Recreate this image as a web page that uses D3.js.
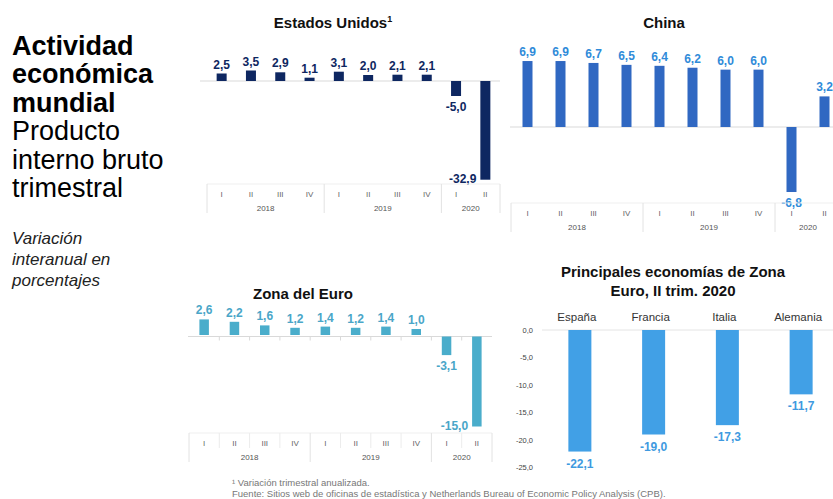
<!DOCTYPE html>
<html>
<head>
<meta charset="utf-8">
<script src="https://cdn.jsdelivr.net/npm/d3@7"></script>
<style>
  body { margin: 0; background: #fff; }
  text { font-family: "Liberation Sans", Arial, sans-serif; }
</style>
</head>
<body>
<div class="canvas"></div>
<script>
// data
const quarters = ["I", "II", "III", "IV", "I", "II", "III", "IV", "I", "II"];
const years = ["2018", "2019", "2020"];
const yearStarts = [0, 4, 8];
const usValues = [2.5, 3.5, 2.9, 1.1, 3.1, 2.0, 2.1, 2.1, -5.0, -32.9];
const chinaValues = [6.9, 6.9, 6.7, 6.5, 6.4, 6.2, 6.0, 6.0, -6.8, 3.2];
const euroValues = [2.6, 2.2, 1.6, 1.2, 1.4, 1.2, 1.4, 1.0, -3.1, -15.0];
const countries = ["España", "Francia", "Italia", "Alemania"];
const countryValues = [-22.1, -19.0, -17.3, -11.7];
const countryTicks = [0, -5, -10, -15, -20, -25];

// spanish decimal comma, plain hyphen minus
const fmt = v => d3.format(".1f")(v).replace("−", "-").replace(".", ",");

const svg = d3.select('.canvas')
  .append('svg')
  .attr('width', 833)
  .attr('height', 499);

// left heading
const head = svg.append('g');
const bigLines = [
  {t: "Actividad", b: true}, {t: "económica", b: true}, {t: "mundial", b: true},
  {t: "Producto", b: false}, {t: "interno bruto", b: false}, {t: "trimestral", b: false}
];
bigLines.forEach((l, i) => {
  head.append('text')
    .attr('x', 12).attr('y', 55 + i * 28.4)
    .attr('font-size', 27)
    .attr('font-weight', l.b ? 'bold' : 'normal')
    .attr('fill', '#000')
    .text(l.t);
});
["Variación", "interanual en", "porcentajes"].forEach((t, i) => {
  head.append('text')
    .attr('x', 12).attr('y', 244 + i * 21.2)
    .attr('font-size', 17)
    .attr('font-style', 'italic')
    .attr('fill', '#222')
    .text(t);
});

// quarterly bar chart
function quarterChart(opt) {
  const g = svg.append('g');
  const x = d3.scaleBand()
    .domain(d3.range(opt.values.length))
    .range(opt.xRange);
  const y = d3.scaleLinear()
    .domain([0, opt.unitVal])
    .range([opt.zeroY, opt.zeroY - opt.unitPx * opt.unitVal]);
  const bw = opt.barW;
  const cx = i => x(i) + x.bandwidth() / 2;

  g.append('text')
    .attr('x', opt.titleX).attr('y', opt.titleY)
    .attr('text-anchor', 'middle')
    .attr('font-size', 15).attr('font-weight', 'bold')
    .attr('fill', '#111')
    .text(opt.title)
    .call(t => { if (opt.sup) t.append('tspan').attr('font-size', 9).attr('dy', -6).text(opt.sup); });

  // zero line
  g.append('line')
    .attr('x1', opt.lineX[0]).attr('x2', opt.lineX[1])
    .attr('y1', y(0)).attr('y2', y(0))
    .attr('stroke', '#d9d9d9');

  if (opt.zeroTicks) {
    d3.range(1, opt.values.length).forEach(i => {
      g.append('line')
        .attr('x1', x(i)).attr('x2', x(i))
        .attr('y1', y(0)).attr('y2', y(0) + 4)
        .attr('stroke', '#d9d9d9');
    });
  }

  g.selectAll('rect.bar')
    .data(opt.values)
    .enter().append('rect')
    .attr('class', 'bar')
    .attr('x', (d, i) => cx(i) - bw / 2)
    .attr('y', d => d >= 0 ? y(d) - opt.posGap : y(0))
    .attr('width', bw)
    .attr('height', d => Math.abs(y(d) - y(0)))
    .attr('fill', opt.color);

  g.selectAll('text.val')
    .data(opt.values)
    .enter().append('text')
    .attr('class', 'val')
    .attr('x', (d, i) => opt.sideLabel.includes(i) ? cx(i) - bw / 2 - 4 : cx(i))
    .attr('y', (d, i) => {
      if (opt.sideLabel.includes(i)) return y(d) + 3;
      return d >= 0 ? y(d) - opt.posGap - 5 : y(d) + 15;
    })
    .attr('text-anchor', (d, i) => opt.sideLabel.includes(i) ? 'end' : 'middle')
    .attr('font-size', 12).attr('font-weight', 'bold')
    .attr('fill', opt.labelColor)
    .text(d => fmt(d));

  // category axis
  const ax = opt.axisY;
  g.append('line')
    .attr('x1', x.range()[0]).attr('x2', Math.min(x.range()[1], 833))
    .attr('y1', ax).attr('y2', ax)
    .attr('stroke', '#efefef');
  const seps = yearStarts.map(i => x(i)).concat([x.range()[1]]);
  seps.forEach(s => {
    g.append('line')
      .attr('x1', s).attr('x2', s)
      .attr('y1', ax).attr('y2', ax + 29)
      .attr('stroke', '#e2e2e2');
  });
  if (opt.innerTicks) {
    d3.range(1, quarters.length).filter(i => !yearStarts.includes(i)).forEach(i => {
      g.append('line')
        .attr('x1', x(i)).attr('x2', x(i))
        .attr('y1', ax).attr('y2', ax + 15)
        .attr('stroke', '#ececec');
    });
  }
  g.selectAll('text.q')
    .data(quarters)
    .enter().append('text')
    .attr('class', 'q')
    .attr('x', (d, i) => cx(i))
    .attr('y', ax + 13)
    .attr('text-anchor', 'middle')
    .attr('font-size', 8)
    .attr('fill', '#666')
    .text(d => d);
  g.selectAll('text.yr')
    .data(years)
    .enter().append('text')
    .attr('class', 'yr')
    .attr('x', (d, k) => (seps[k] + seps[k + 1]) / 2)
    .attr('y', ax + 27)
    .attr('text-anchor', 'middle')
    .attr('font-size', 8)
    .attr('fill', '#555')
    .text(d => d);
}

quarterChart({
  values: usValues, title: "Estados Unidos", sup: "1", titleX: 333, titleY: 28,
  xRange: [207, 500], zeroY: 81, unitPx: 3.0, unitVal: 10, barW: 10, posGap: 0,
  lineX: [200, 500], color: '#0e2761', labelColor: '#0e2761',
  sideLabel: [9], axisY: 184, zeroTicks: false, innerTicks: false
});

quarterChart({
  values: chinaValues, title: "China", titleX: 664, titleY: 28,
  xRange: [511, 841], zeroY: 127, unitPx: 9.56, unitVal: 10, barW: 10, posGap: 0,
  lineX: [510, 833], color: '#3068c2', labelColor: '#2f8bd9',
  sideLabel: [], axisY: 203, zeroTicks: false, innerTicks: false
});

quarterChart({
  values: euroValues, title: "Zona del Euro", titleX: 303, titleY: 299,
  xRange: [189, 492], zeroY: 336.5, unitPx: 6.0, unitVal: 10, barW: 9.5, posGap: 1.5,
  lineX: [188, 492], color: '#4aadcb', labelColor: '#4aa6c8',
  sideLabel: [9], axisY: 433, zeroTicks: true, innerTicks: true
});

// main euro economies chart
const cg = svg.append('g');
const cx2 = d3.scaleBand().domain(countries).range([543, 838]);
const cy2 = d3.scaleLinear().domain([0, -25]).range([330, 467.5]);

["Principales economías de Zona", "Euro, II trim. 2020"].forEach((t, i) => {
  cg.append('text')
    .attr('x', 673).attr('y', 277 + i * 19)
    .attr('text-anchor', 'middle')
    .attr('font-size', 15).attr('font-weight', 'bold')
    .attr('fill', '#111')
    .text(t);
});

cg.append('line')
  .attr('x1', 542).attr('x2', 833)
  .attr('y1', cy2(0)).attr('y2', cy2(0))
  .attr('stroke', '#e4e4e4');

const yAxis = d3.axisLeft(cy2).tickValues(countryTicks).tickSize(0).tickFormat(fmt);
cg.append('g')
  .attr('transform', 'translate(536,0)')
  .call(yAxis)
  .call(a => a.select('.domain').remove())
  .call(a => a.selectAll('text')
    .attr('font-family', '"Liberation Sans", Arial, sans-serif')
    .attr('font-size', 7.5).attr('fill', '#444'));

cg.selectAll('text.cat')
  .data(countries)
  .enter().append('text')
  .attr('class', 'cat')
  .attr('x', d => cx2(d) + cx2.bandwidth() / 2 - 3)
  .attr('y', 321)
  .attr('text-anchor', 'middle')
  .attr('font-size', 11.5).attr('fill', '#333')
  .text(d => d);

cg.selectAll('rect')
  .data(countryValues)
  .enter().append('rect')
  .attr('x', (d, i) => cx2(countries[i]) + cx2.bandwidth() / 2 - 11.5)
  .attr('y', cy2(0))
  .attr('width', 23)
  .attr('height', d => cy2(d) - cy2(0))
  .attr('fill', '#41a0e6');

cg.selectAll('text.cv')
  .data(countryValues)
  .enter().append('text')
  .attr('class', 'cv')
  .attr('x', (d, i) => cx2(countries[i]) + cx2.bandwidth() / 2)
  .attr('y', d => cy2(d) + 16)
  .attr('text-anchor', 'middle')
  .attr('font-size', 12).attr('font-weight', 'bold')
  .attr('fill', '#3f9ae0')
  .text(d => fmt(d));

// footnote
const foot = svg.append('g');
foot.append('text')
  .attr('x', 232).attr('y', 486)
  .attr('font-size', 9.5).attr('fill', '#777')
  .text("¹ Variación trimestral anualizada.");
foot.append('text')
  .attr('x', 232).attr('y', 497)
  .attr('font-size', 9.5).attr('fill', '#777')
  .text("Fuente: Sitios web de oficinas de estadística y Netherlands Bureau of Economic Policy Analysis (CPB).");
</script>
</body>
</html>
